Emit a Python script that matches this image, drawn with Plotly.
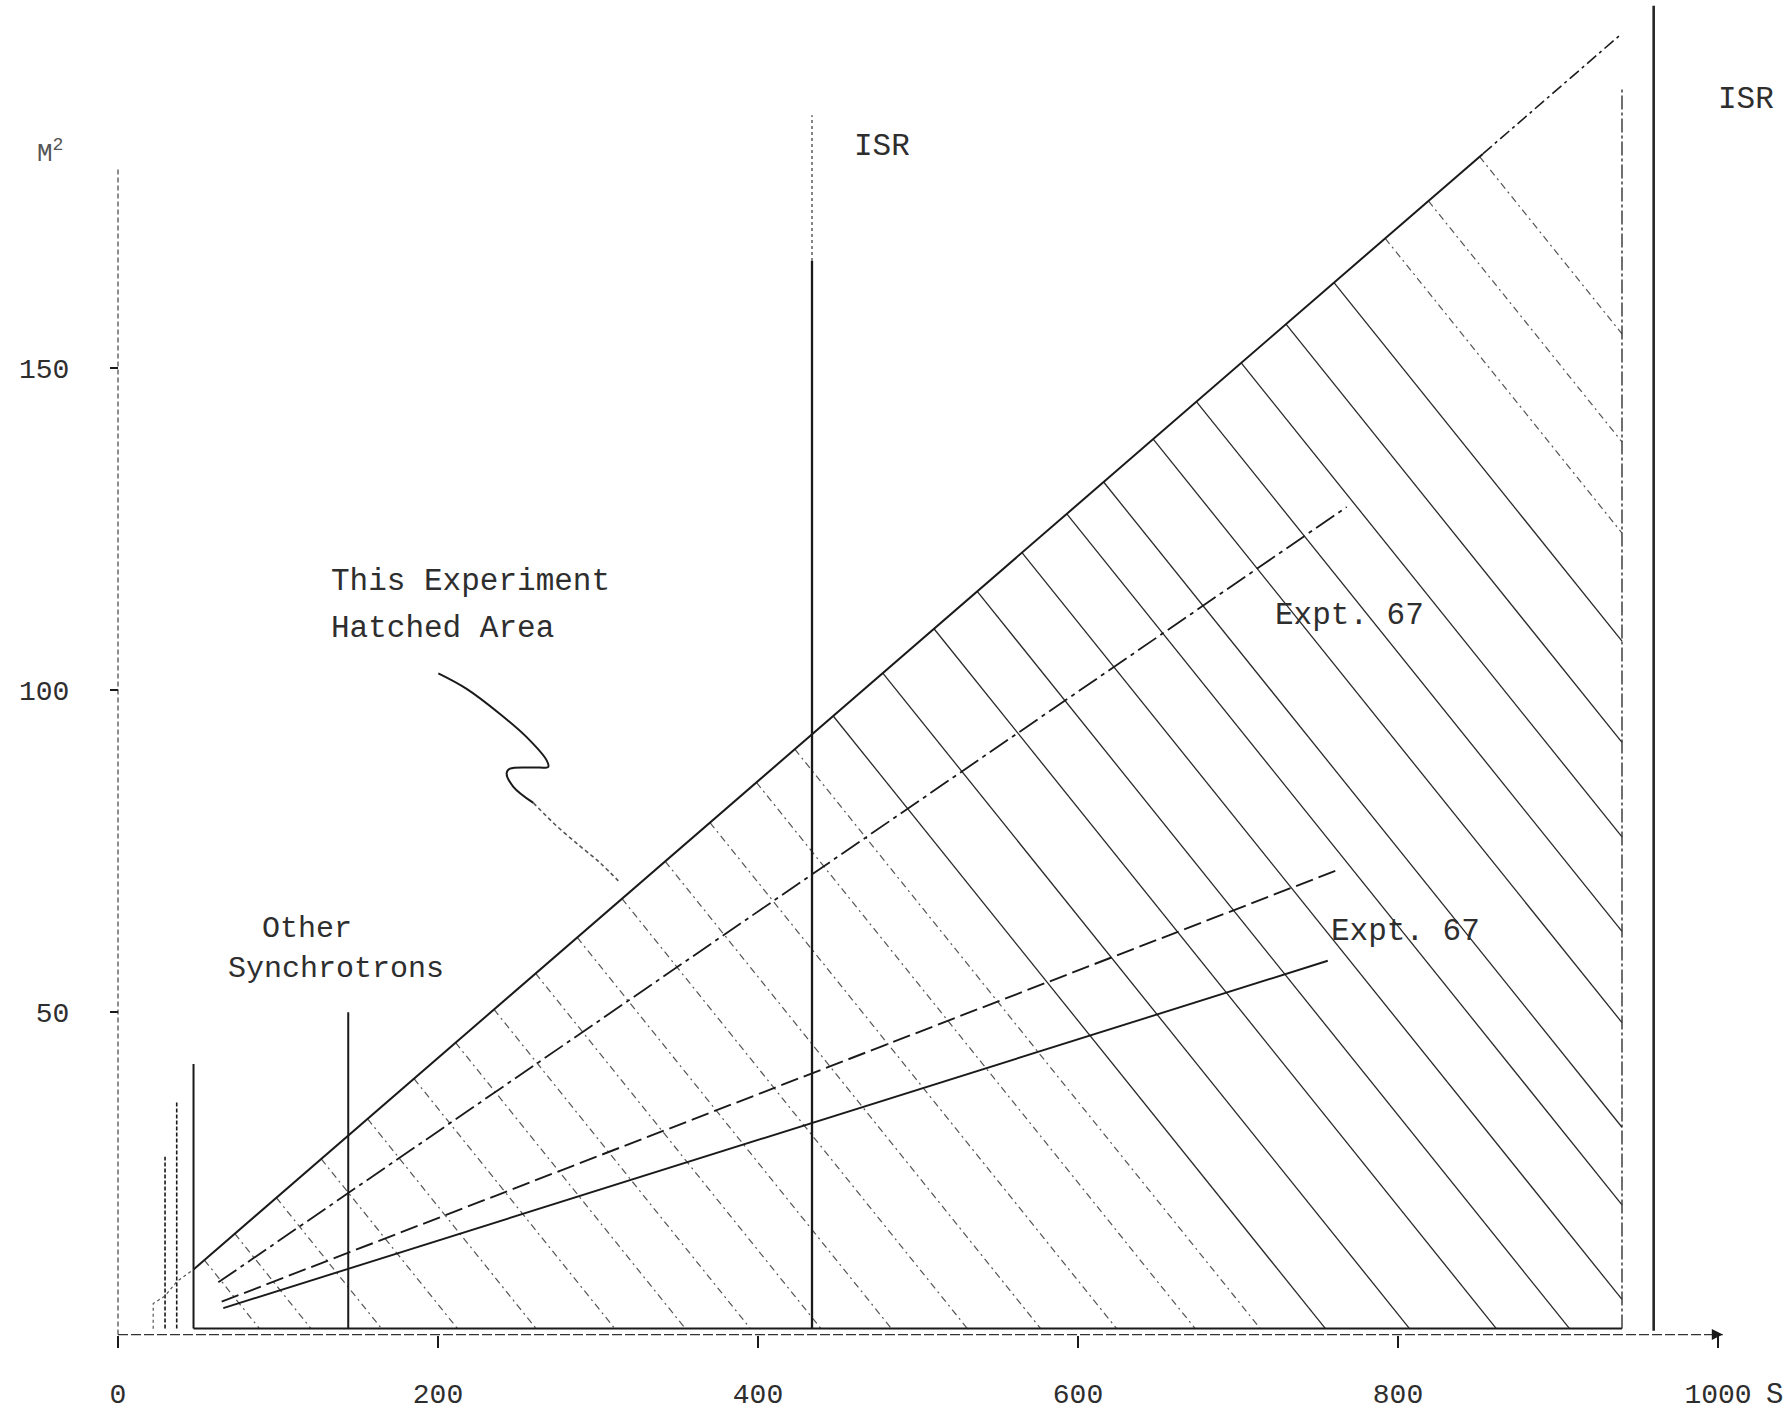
import numpy as np
import plotly.graph_objects as go

# ---------------- data ----------------
s_ticks = [0, 200, 400, 600, 800, 1000]
s_tick_text = ["0", "200", "400", "600", "800", "1000"]
m2_ticks = [50, 100, 150]
m2_tick_text = ["50", "100", "150"]

# upper boundary of "this experiment" region
upper_s = [47.2, 853.0, 940.0]
upper_m2 = [10.1, 183.2, 201.9]

# Expt. 67 lines
expt_a_s = [62.7, 767.9]
expt_a_m2 = [8.1, 128.4]
expt_b_s = [64.8, 761.4]
expt_b_m2 = [5.1, 72.0]
expt_c_s = [65.8, 756.1]
expt_c_m2 = [4.1, 58.0]

# vertical markers
isr_s = 433.75
isr_top = 189.2
isr_dotted_from = 166.6
hatch_edge_s = 940.0
hatch_edge_top = 193.4
isr2_s = 959.8
isr2_top = 206.2
synch_s = [29.4, 36.7, 47.2, 143.9]
synch_top = [27.6, 36.0, 42.0, 50.0]
baseline_m2 = 0.92
corner_s = [22.0, 22.0, 29.4, 36.7, 47.2]
corner_m2 = [0.9, 4.8, 6.0, 8.2, 10.1]

# hatch lines: where each one leaves the upper boundary
hatch_top_s = [54, 73, 99, 127, 156, 185, 211, 235, 261, 287, 315, 342, 370,
               399, 423, 447, 478, 510, 537, 565, 593, 616, 647, 674, 702,
               730, 760, 792, 819, 851]
hatch_slope = -0.309

# axes extents
y_axis_top = 180.9
x_axis_end = 1003.0

# hand-drawn pointer
pointer_s = [200.2, 217.9, 238.75, 255.4, 267.9, 268.9, 259.6, 245.0, 242.9, 247.1, 259.6]
pointer_m2 = [102.6, 100.2, 96.3, 92.7, 89.1, 88.1, 88.0, 87.8, 87.1, 85.0, 82.5]
pointer2_s = [259.6, 274.2, 288.75, 301.25, 312.7]
pointer2_m2 = [82.5, 78.9, 75.8, 73.2, 70.4]

X_RANGE = [-73.75, 1046.25]
Y_RANGE = [-10.0, 207.08]

FONT = "Liberation Mono, Courier New, monospace"
INK = "#1a1a1a"
TXT = "#2e2e2e"

fig = go.Figure()


def seg(x, y, width=1.8, dash="solid", color=INK, shape="linear"):
    fig.add_trace(go.Scatter(x=x, y=y, mode="lines", hoverinfo="skip",
                             line=dict(color=color, width=width, dash=dash, shape=shape)))


# hatch lines
solid_x, solid_y, dash_x, dash_y = [], [], [], []
for xt in hatch_top_s:
    yt = float(np.interp(xt, upper_s, upper_m2))
    xb = xt + (yt - baseline_m2) / (-hatch_slope)
    yb = baseline_m2
    if xb > hatch_edge_s:
        xb = hatch_edge_s
        yb = yt + hatch_slope * (hatch_edge_s - xt)
    if 440 < xt < 770:
        solid_x += [xt, xb, None]
        solid_y += [yt, yb, None]
    else:
        dash_x += [xt, xb, None]
        dash_y += [yt, yb, None]
seg(dash_x, dash_y, width=1.2, dash="7px,4px,2px,4px", color="#555555")
seg(solid_x, solid_y, width=1.3, color="#2a2a2a")

# axes (hand drawn)
seg([0, 0], [0, y_axis_top], width=1.2, dash="5px,3px", color="#444444")
seg([0, x_axis_end], [0, 0], width=1.3, dash="10px,3px", color="#333333")
fig.add_trace(go.Scatter(x=[x_axis_end], y=[0], mode="markers", hoverinfo="skip",
                         marker=dict(symbol="arrow-right", size=11, color=INK)))
seg([upper_s[0], hatch_edge_s], [baseline_m2, baseline_m2], width=2.0)

# boundaries
seg(upper_s[:2], upper_m2[:2], width=2.0)
seg(upper_s[1:], upper_m2[1:], width=1.6, dash="12px,4px,3px,4px")
seg(expt_a_s, expt_a_m2, width=1.8, dash="22px,5px,4px,5px")
seg(expt_b_s, expt_b_m2, width=1.9, dash="18px,6px")
seg(expt_c_s, expt_c_m2, width=1.9)

# verticals
seg([isr_s, isr_s], [isr_dotted_from, isr_top], width=1.3, dash="3px,3px", color="#444444")
seg([isr_s, isr_s], [baseline_m2, isr_dotted_from], width=2.3)
seg([hatch_edge_s, hatch_edge_s], [baseline_m2, hatch_edge_top], width=1.4,
    dash="14px,3px,3px,3px", color="#333333")
seg([isr2_s, isr2_s], [0.6, isr2_top], width=2.6, color="#262626")
for xs, top in zip(synch_s, synch_top):
    seg([xs, xs], [baseline_m2, top], width=2.0 if xs > 40 else 1.6,
        dash="solid" if xs > 40 else "4px,2px")
seg(corner_s, corner_m2, width=1.2, dash="3px,3px", color="#555555")

# pointer
seg(pointer_s, pointer_m2, width=2.0, shape="spline")
seg(pointer2_s, pointer2_m2, width=1.6, dash="4px,3px", color="#555555", shape="spline")

# labels
ann = [
    dict(x=477.8, y=184.3, text="ISR", xanchor="center", size=31),
    dict(x=1017.5, y=191.7, text="ISR", xanchor="center", size=31),
    dict(x=131.9, y=116.9, text="This Experiment", xanchor="left", size=31),
    dict(x=131.9, y=109.5, text="Hatched Area", xanchor="left", size=31),
    dict(x=118.1, y=63.0, text="Other", xanchor="center", size=30),
    dict(x=136.0, y=56.8, text="Synchrotrons", xanchor="center", size=30),
    dict(x=769.4, y=111.6, text="Expt. 67", xanchor="center", size=31),
    dict(x=804.9, y=62.6, text="Expt. 67", xanchor="center", size=31),
    dict(x=1035.0, y=-9.4, text="S", xanchor="center", size=29),
]
for a in ann:
    fig.add_annotation(x=a["x"], y=a["y"], text=a["text"], xanchor=a["xanchor"],
                       yanchor="middle", showarrow=False,
                       font=dict(family=FONT, size=a["size"], color=TXT))
fig.add_annotation(x=-41.9, y=183.5, text="M<sup>2</sup>", showarrow=False,
                   xanchor="center", yanchor="middle",
                   font=dict(family=FONT, size=26, color="#555555"))

fig.update_layout(
    width=1792, height=1411,
    margin=dict(l=0, r=0, t=0, b=0),
    paper_bgcolor="white", plot_bgcolor="white",
    showlegend=False, hovermode=False,
    xaxis=dict(range=X_RANGE, showgrid=False, zeroline=False, showline=False,
               anchor="free",
               position=(0 - Y_RANGE[0]) / (Y_RANGE[1] - Y_RANGE[0]),
               tickmode="array", tickvals=s_ticks, ticktext=s_tick_text,
               ticks="outside", ticklen=12, tickwidth=1.5, tickcolor=INK,
               ticklabelstandoff=22,
               tickfont=dict(family=FONT, size=28, color=TXT)),
    yaxis=dict(range=Y_RANGE, showgrid=False, zeroline=False, showline=False,
               anchor="free",
               position=(0 - X_RANGE[0]) / (X_RANGE[1] - X_RANGE[0]),
               tickmode="array", tickvals=m2_ticks, ticktext=m2_tick_text,
               ticks="outside", ticklen=8, tickwidth=1.5, tickcolor=INK,
               ticklabelstandoff=35,
               tickfont=dict(family=FONT, size=28, color=TXT)),
)

fig.write_html("out.html", config={"displayModeBar": False},
               post_script="document.body.style.margin='0';document.body.style.overflow='hidden';")
